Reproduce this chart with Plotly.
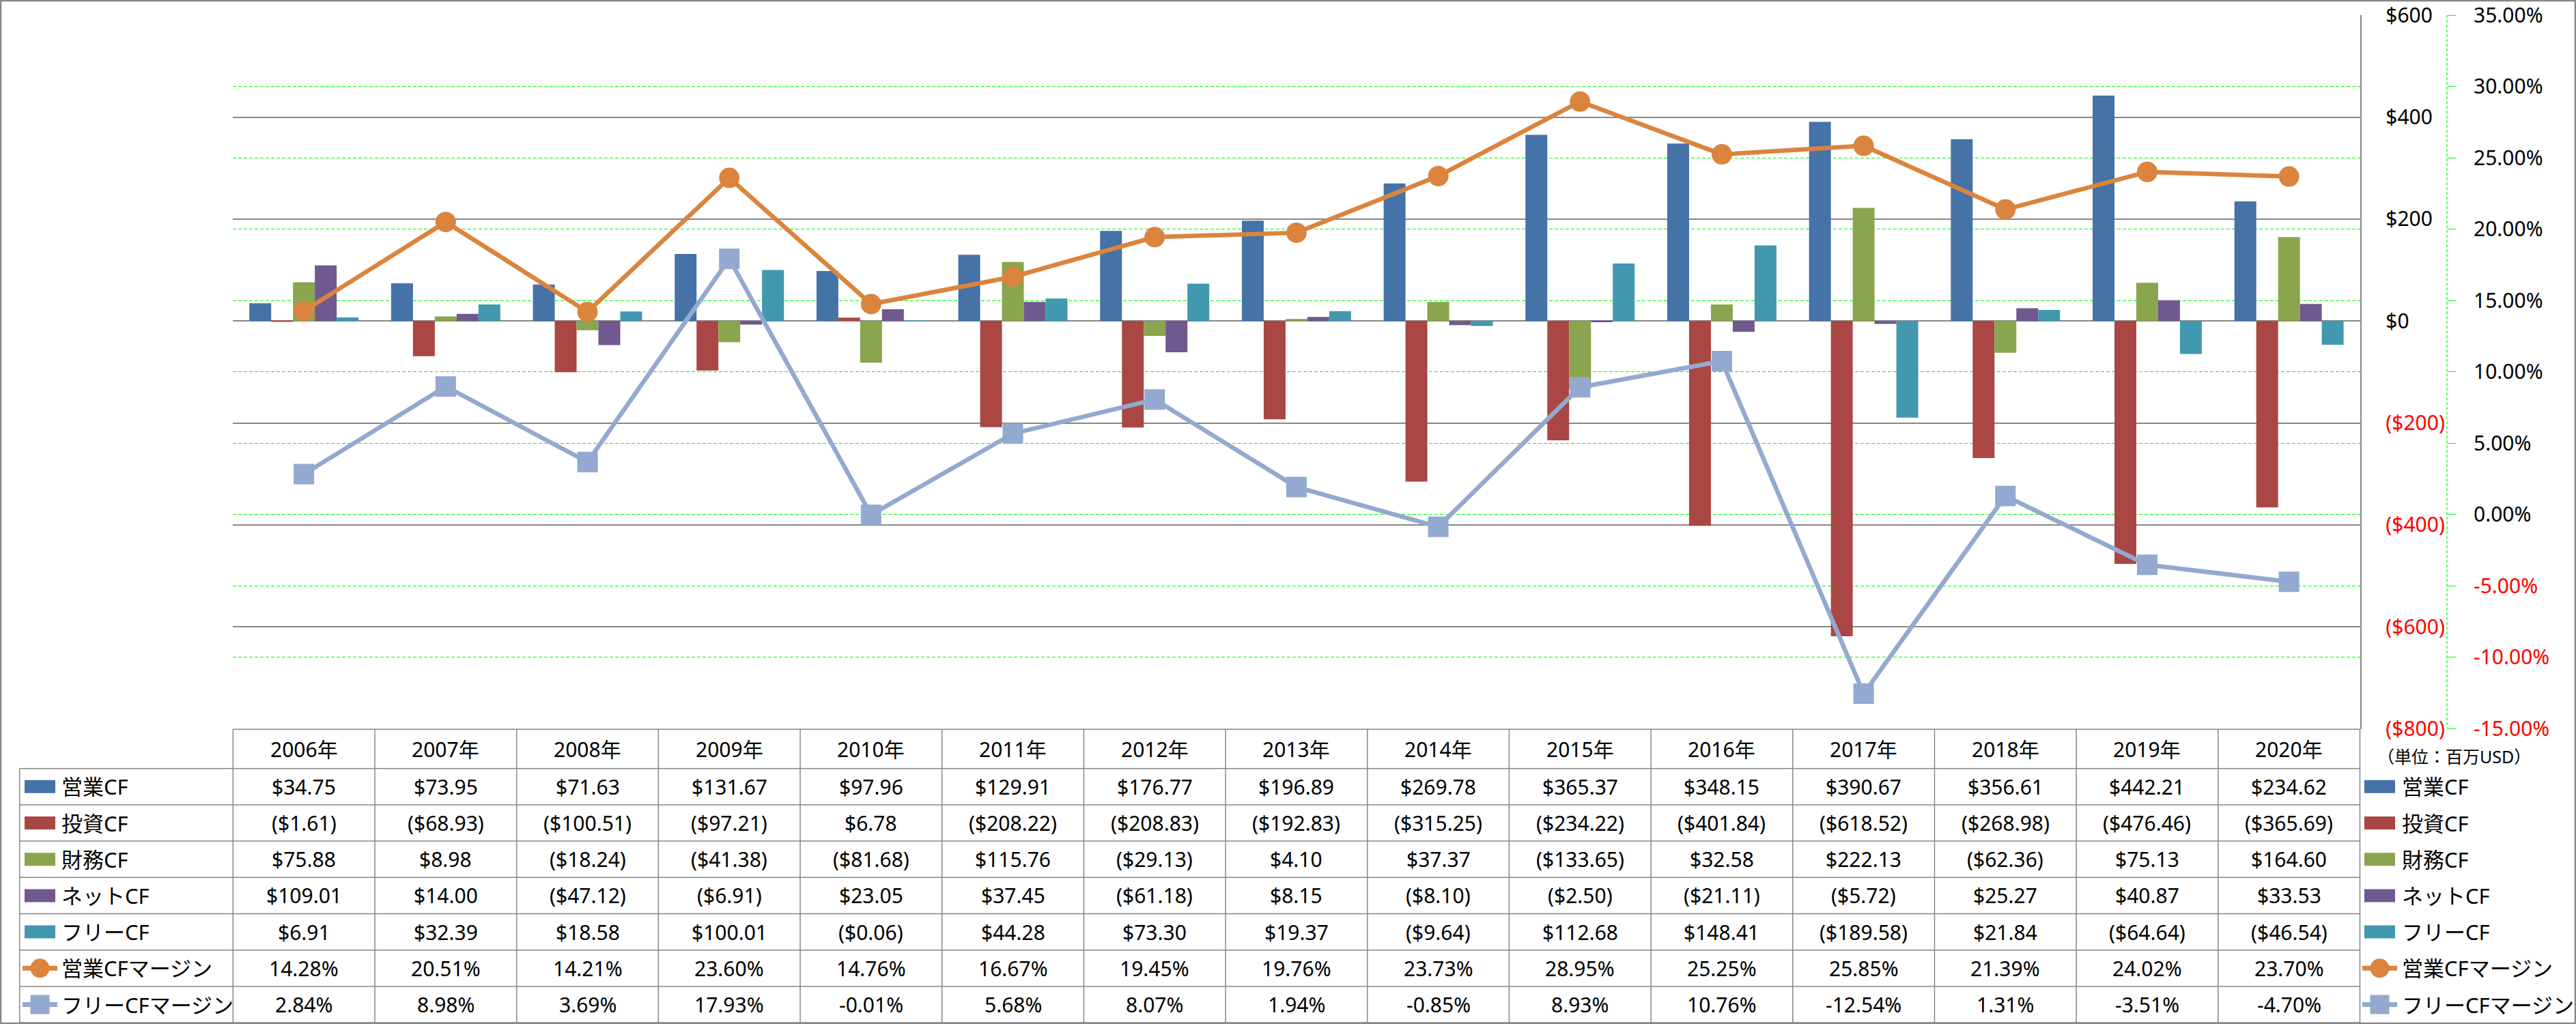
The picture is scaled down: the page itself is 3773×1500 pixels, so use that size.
import plotly.graph_objects as go

# ---------------- data ----------------
years = ['2006年', '2007年', '2008年', '2009年', '2010年', '2011年', '2012年', '2013年',
         '2014年', '2015年', '2016年', '2017年', '2018年', '2019年', '2020年']
op_cf = [34.75, 73.95, 71.63, 131.67, 97.96, 129.91, 176.77, 196.89,
         269.78, 365.37, 348.15, 390.67, 356.61, 442.21, 234.62]
inv_cf = [-1.61, -68.93, -100.51, -97.21, 6.78, -208.22, -208.83, -192.83,
          -315.25, -234.22, -401.84, -618.52, -268.98, -476.46, -365.69]
fin_cf = [75.88, 8.98, -18.24, -41.38, -81.68, 115.76, -29.13, 4.10,
          37.37, -133.65, 32.58, 222.13, -62.36, 75.13, 164.60]
net_cf = [109.01, 14.00, -47.12, -6.91, 23.05, 37.45, -61.18, 8.15,
          -8.10, -2.50, -21.11, -5.72, 25.27, 40.87, 33.53]
free_cf = [6.91, 32.39, 18.58, 100.01, -0.06, 44.28, 73.30, 19.37,
           -9.64, 112.68, 148.41, -189.58, 21.84, -64.64, -46.54]
op_margin = [14.28, 20.51, 14.21, 23.60, 14.76, 16.67, 19.45, 19.76,
             23.73, 28.95, 25.25, 25.85, 21.39, 24.02, 23.70]
free_margin = [2.84, 8.98, 3.69, 17.93, -0.01, 5.68, 8.07, 1.94,
               -0.85, 8.93, 10.76, -12.54, 1.31, -3.51, -4.70]

usd_ticks = [-800, -600, -400, -200, 0, 200, 400, 600]
pct_ticks = [-15, -10, -5, 0, 5, 10, 15, 20, 25, 30, 35]
unit_label = '（単位：百万USD）'

bar_names = ['営業CF', '投資CF', '財務CF', 'ネットCF', 'フリーCF']
line_names = ['営業CFマージン', 'フリーCFマージン']

# ---------------- styling / layout geometry ----------------
W, H = 3773, 1500
PX0, PX1 = 341.3, 3456.5        # plot area left/right (px)
PY0, PY1 = 22.3, 1067.5         # plot area top/bottom (px)
Y2_AXIS_X = 3584
GRID_GRAY = '#878787'
GREEN = '#00FF00'
RED = '#FF0000'
FONT = 'Noto Sans, Noto Sans CJK JP, sans-serif'

bar_colors = ['#4572A7', '#AA4643', '#89A54E', '#71588F', '#4198AF']
line_colors = ['#DB843D', '#93A9CF']
line_symbols = ['circle', 'square']


def fx(px):
    return px / W


def fy(py):
    return 1 - py / H


def money(v):
    return f'${v:,.2f}' if v >= 0 else f'(${-v:,.2f})'


def money_tick(v):
    if v < 0:
        return f'<span style="color:{RED}">(${-v:,.0f})</span>'
    return f'${v:,.0f}'


def pct(v):
    return f'{v:.2f}%'


def pct_tick(v):
    s = f'{v:.2f}%'
    if v < 0:
        return f'<span style="color:{RED}">{s}</span>'
    return s


fig = go.Figure()

bar_data = [op_cf, inv_cf, fin_cf, net_cf, free_cf]
for name, vals, col in zip(bar_names, bar_data, bar_colors):
    fig.add_trace(go.Bar(x=years, y=vals, name=name, yaxis='y',
                         marker=dict(color=col, line=dict(width=0))))

line_data = [op_margin, free_margin]
for name, vals, col, sym in zip(line_names, line_data, line_colors, line_symbols):
    fig.add_trace(go.Scatter(x=years, y=vals, name=name, yaxis='y2',
                             mode='lines+markers',
                             line=dict(color=col, width=6.5),
                             marker=dict(symbol=sym, size=30, color=col,
                                         line=dict(width=0))))

shapes = []
annotations = []


def hline(x0, x1, y, color=GRID_GRAY, width=1.5, dash=None):
    shapes.append(dict(type='line', xref='paper', yref='paper',
                       x0=fx(x0), x1=fx(x1), y0=fy(y), y1=fy(y),
                       line=dict(color=color, width=width, dash=dash)))


def vline(x, y0, y1, color=GRID_GRAY, width=1.5, dash=None):
    shapes.append(dict(type='line', xref='paper', yref='paper',
                       x0=fx(x), x1=fx(x), y0=fy(y0), y1=fy(y1),
                       line=dict(color=color, width=width, dash=dash)))


def text(s, x, y, xanchor='center', size=30, color='#000000'):
    annotations.append(dict(text=s, x=fx(x), y=fy(y), xref='paper', yref='paper',
                            xanchor=xanchor, yanchor='middle', showarrow=False,
                            font=dict(family=FONT, size=size, color=color)))


# secondary axis line (dotted green)
vline(Y2_AXIS_X, PY0, PY1, color=GREEN, width=1.3, dash='4px,3px')

# ---------------- data table ----------------
n = len(years)
cw = (PX1 - PX0) / n
HEAD_TOP = 1068.3
ROW0 = 1125.7
RH = 53.2
nrows = len(bar_names) + len(line_names)
TBL_BOTTOM = ROW0 + nrows * RH
LEG_LEFT = 28.7

hline(PX0, PX1, HEAD_TOP)
for r in range(nrows + 1):
    hline(LEG_LEFT, PX1, ROW0 + r * RH)
for k in range(n + 1):
    vline(PX0 + k * cw, HEAD_TOP, TBL_BOTTOM)
vline(LEG_LEFT, ROW0, TBL_BOTTOM)

head_y = (HEAD_TOP + ROW0) / 2
for k, yr in enumerate(years):
    text(yr, PX0 + (k + 0.5) * cw, head_y)

row_names = bar_names + line_names
row_vals = bar_data + line_data
row_fmt = [money] * len(bar_names) + [pct] * len(line_names)
row_cols = bar_colors + line_colors
row_kind = ['bar'] * len(bar_names) + line_symbols

for r, (nm, vals, fmt, col, kind) in enumerate(zip(row_names, row_vals, row_fmt, row_cols, row_kind)):
    cy = ROW0 + (r + 0.5) * RH
    for k, v in enumerate(vals):
        text(fmt(v), PX0 + (k + 0.5) * cw, cy)
    # legend keys: in-table (left) and right-hand legend
    for kx0, kx1, tx in [(36, 81, 87.7), (3463, 3508, 3515.7)]:
        if kind == 'bar':
            shapes.append(dict(type='rect', xref='paper', yref='paper',
                               x0=fx(kx0), x1=fx(kx1), y0=fy(cy + 9.5), y1=fy(cy - 9.5),
                               fillcolor=col, line=dict(width=0)))
        else:
            lx0, lx1 = kx0 - 3, kx1 + 3
            shapes.append(dict(type='line', xref='paper', yref='paper',
                               x0=fx(lx0), x1=fx(lx1), y0=fy(cy), y1=fy(cy),
                               line=dict(color=col, width=7)))
            cx = (lx0 + lx1) / 2
            rr = 14
            if kind == 'circle':
                shapes.append(dict(type='circle', xref='paper', yref='paper',
                                   x0=fx(cx - rr), x1=fx(cx + rr), y0=fy(cy + rr), y1=fy(cy - rr),
                                   fillcolor=col, line=dict(width=0)))
            else:
                shapes.append(dict(type='rect', xref='paper', yref='paper',
                                   x0=fx(cx - rr), x1=fx(cx + rr), y0=fy(cy + rr), y1=fy(cy - rr),
                                   fillcolor=col, line=dict(width=0)))
        text(nm, tx, cy, xanchor='left', size=31)

text(unit_label, 3480, 1108, xanchor='left', size=25)

# outer chart border
shapes.append(dict(type='rect', xref='paper', yref='paper',
                   x0=fx(1), x1=fx(W - 1), y0=fy(H - 1), y1=fy(1),
                   line=dict(color=GRID_GRAY, width=2.5), fillcolor='rgba(0,0,0,0)'))

fig.update_layout(
    template='none',
    width=W, height=H,
    margin=dict(l=0, r=0, t=0, b=0, pad=0),
    paper_bgcolor='#FFFFFF', plot_bgcolor='rgba(0,0,0,0)',
    font=dict(family=FONT, size=30, color='#000000'),
    showlegend=False,
    barmode='group', bargap=0.23, bargroupgap=0,
    xaxis=dict(domain=[fx(PX0), fx(PX1)], type='category', range=[-0.5, n - 0.5],
               showticklabels=False, showgrid=False, zeroline=False, showline=False,
               ticks='', automargin=False),
    yaxis=dict(domain=[fy(PY1), fy(PY0)], range=[-800, 600], side='right',
               tickvals=usd_ticks, ticktext=[money_tick(v) for v in usd_ticks],
               showgrid=True, gridcolor=GRID_GRAY, gridwidth=1.5,
               zeroline=False, showline=True, linecolor=GRID_GRAY, linewidth=1.5,
               ticks='', ticklabelstandoff=30, automargin=False,
               tickfont=dict(family=FONT, size=30, color='#000000')),
    yaxis2=dict(overlaying='y', side='right', anchor='free', position=fx(Y2_AXIS_X),
                range=[-15, 35], tickvals=pct_ticks, ticktext=[pct_tick(v) for v in pct_ticks],
                showgrid=True, gridcolor=GREEN, griddash='5px,3px', gridwidth=1.3,
                zeroline=False, showline=False,
                ticks='outside', ticklen=12, tickcolor=GREEN, tickwidth=1.3,
                ticklabelstandoff=20, automargin=False,
                tickfont=dict(family=FONT, size=30, color='#000000')),
    shapes=shapes,
    annotations=annotations,
)

fig.write_html("out.html", config={'displayModeBar': False},
               post_script="document.body.style.margin='0';document.body.style.overflow='hidden';")
